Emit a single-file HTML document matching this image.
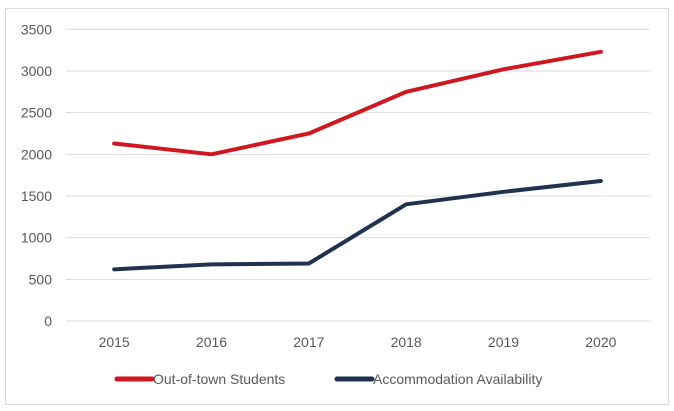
<!DOCTYPE html>
<html><head><meta charset="utf-8"><style>
html,body{margin:0;padding:0;background:#fff;}
svg{display:block;font-family:"Liberation Sans",sans-serif;}
</style></head><body>
<svg width="674" height="411">
<rect x="5.5" y="8.5" width="663" height="396" fill="#fff" stroke="#d9d9d9"/>
<g id="grid"></g><g id="ylab"></g><g id="xlab"></g><g id="lines"></g>
<g>
<line x1="117" y1="379" x2="152" y2="379" stroke="#d0161e" stroke-width="5" stroke-linecap="round"/>
<text x="153" y="384" font-size="14" fill="#595959">Out-of-town Students</text>
<line x1="337" y1="379" x2="372" y2="379" stroke="#1f3350" stroke-width="5" stroke-linecap="round"/>
<text x="373" y="384" font-size="14" fill="#595959">Accommodation Availability</text>
</g>
</svg>
<script>
const categories=["2015","2016","2017","2018","2019","2020"];
const students=[2130,2000,2250,2750,3020,3230];
const accommodation=[620,680,690,1400,1550,1680];
const yTicks=[0,500,1000,1500,2000,2500,3000,3500];
const NS="http://www.w3.org/2000/svg";
const L=65.5,R=649.5,T=29.3,B=321,YMAX=3500;
const y=v=>B-(v/YMAX)*(B-T);
const x=i=>L+(R-L)/categories.length*(i+0.5);
function mk(t,a,p){const e=document.createElementNS(NS,t);for(const k in a)e.setAttribute(k,a[k]);p.appendChild(e);return e;}
const g=document.getElementById('grid'),yl=document.getElementById('ylab'),xl=document.getElementById('xlab'),ln=document.getElementById('lines');
yTicks.forEach(v=>{
const l=mk('line',{x1:L,x2:R,y1:y(v),y2:y(v),stroke:'#d9d9d9','stroke-width':1},g);


const t=mk('text',{x:52,y:y(v)+5,'text-anchor':'end','font-size':'14',fill:'#595959'},yl);
t.textContent=v;


});
categories.forEach((c,i)=>{
const t=mk('text',{x:x(i),y:347,'text-anchor':'middle','font-size':'14',fill:'#595959'},xl);
t.textContent=c;


});
function series(d,col,name){
const p=mk('polyline',{points:d.map((v,i)=>x(i)+','+y(v)).join(' '),fill:'none',stroke:col,'stroke-width':4,'stroke-linejoin':'round','stroke-linecap':'round'},ln);


}
series(students,'#d0161e','line-out-of-town-students');
series(accommodation,'#1f3350','line-accommodation-availability');
</script>
</body></html>
